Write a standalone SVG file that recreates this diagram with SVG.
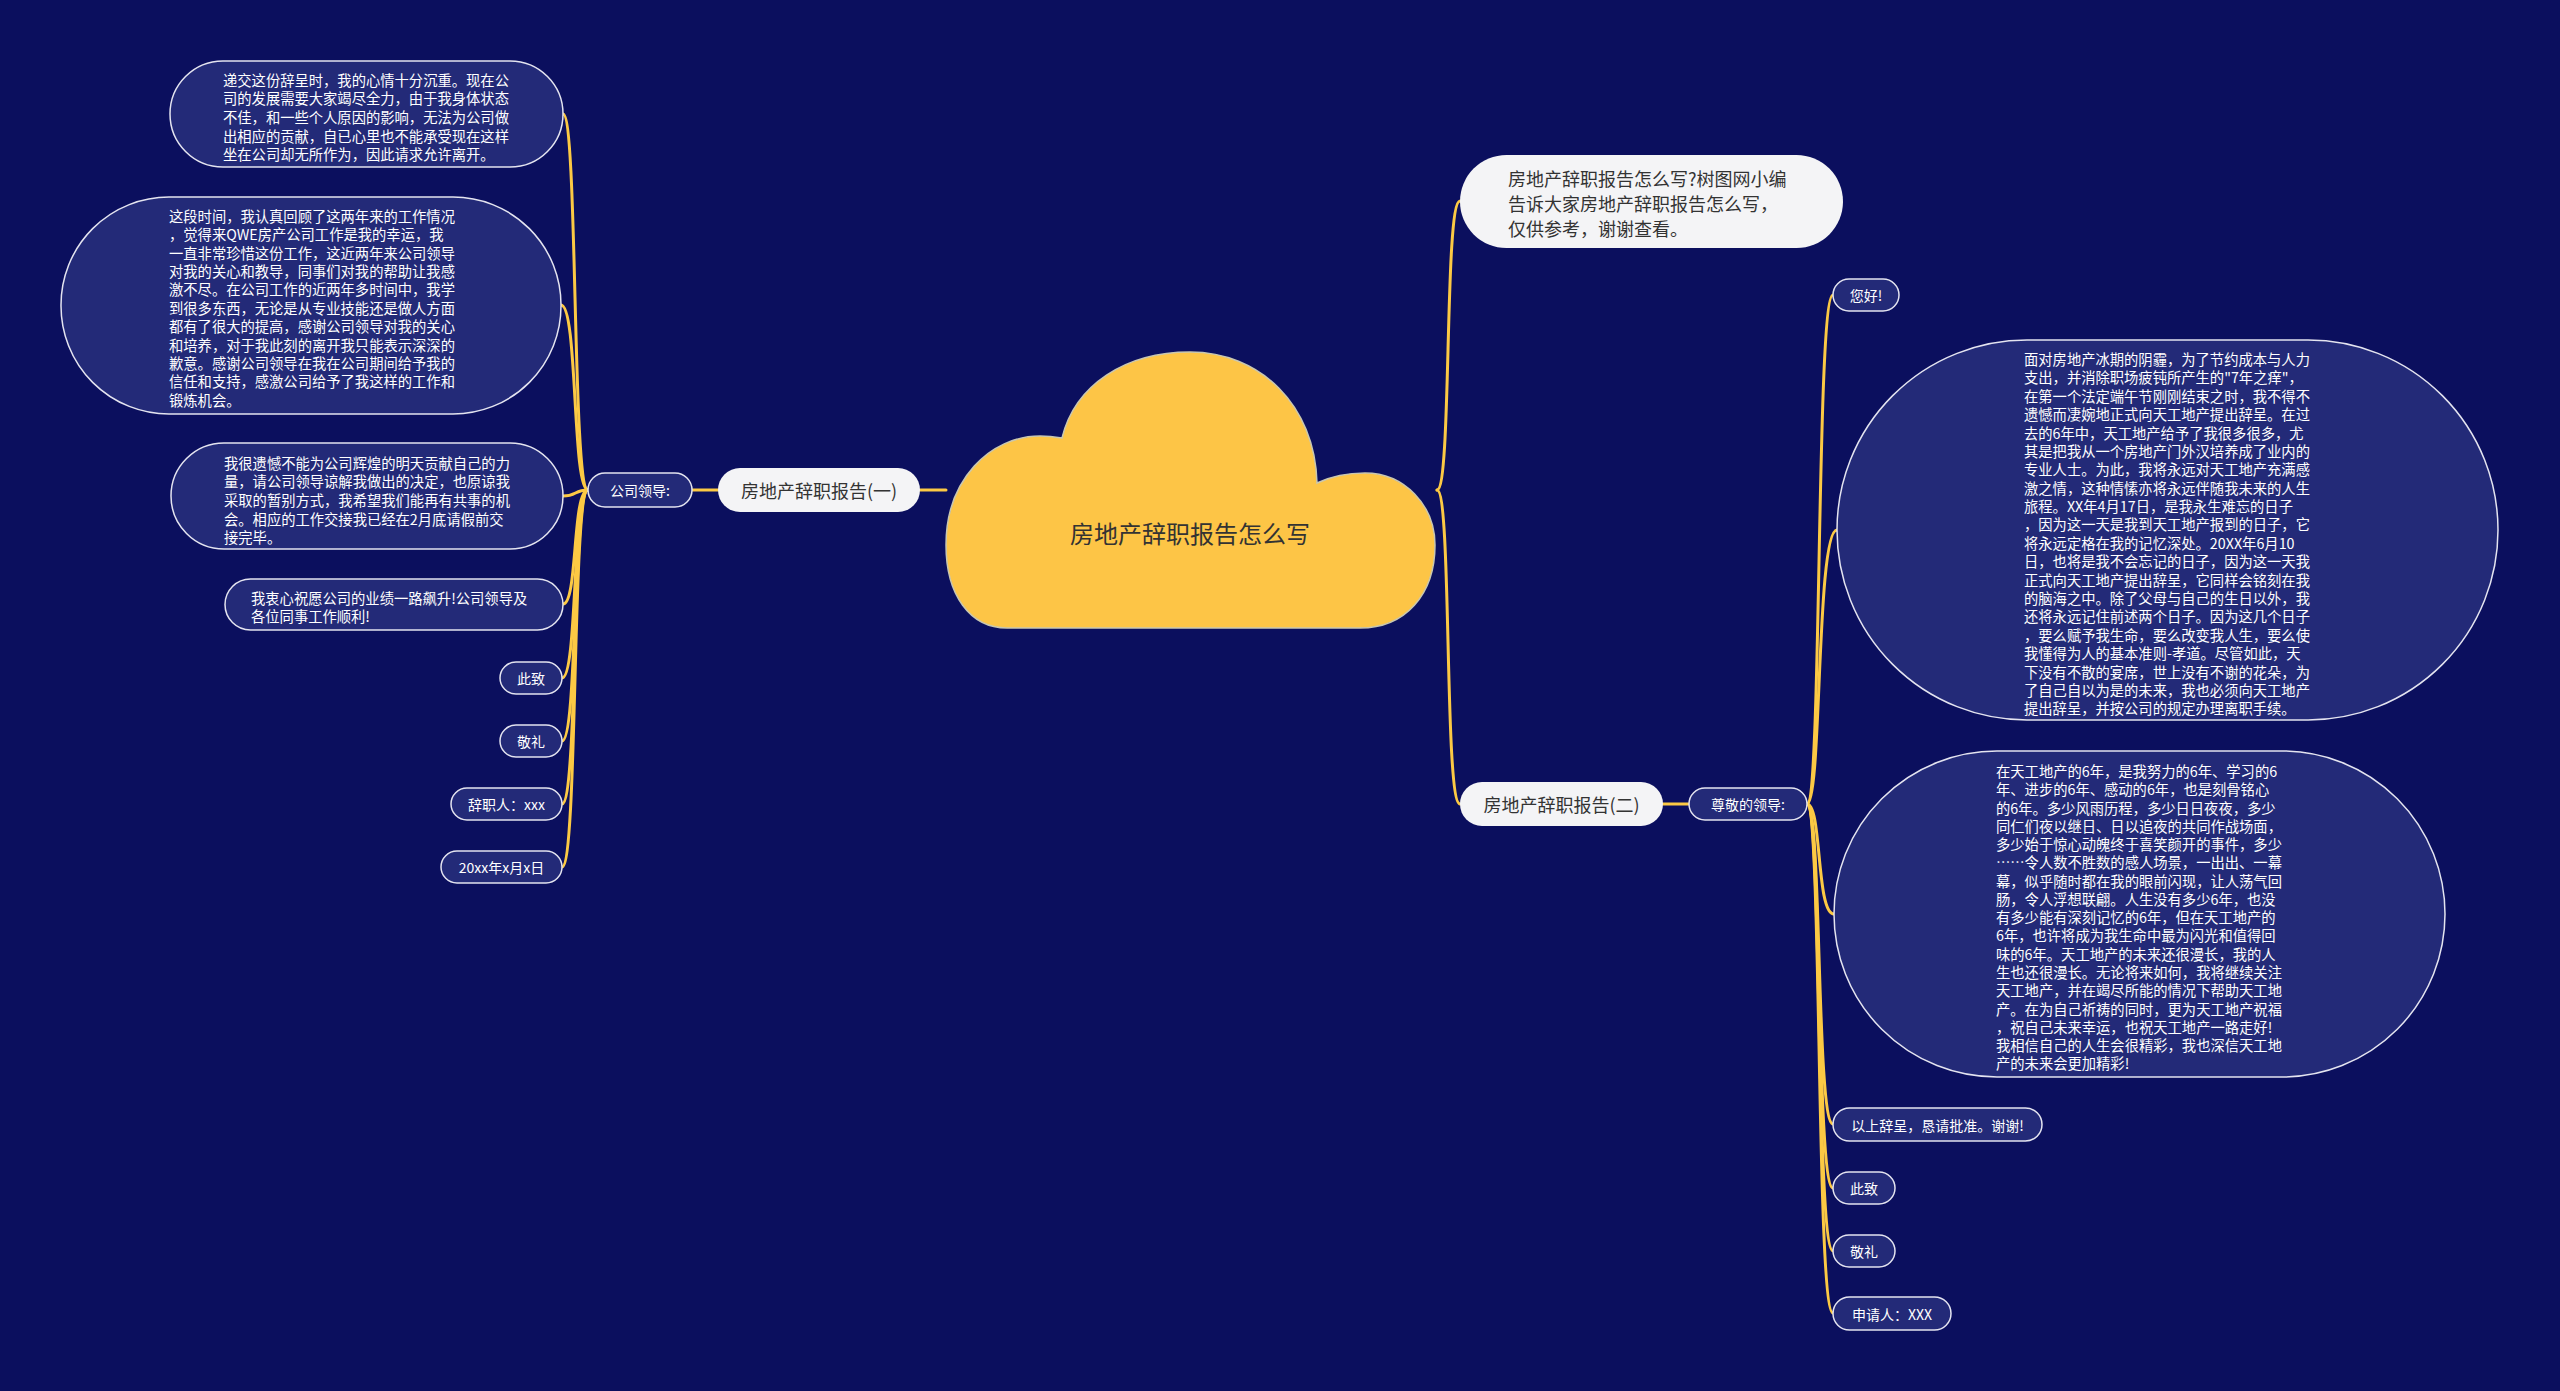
<svg xmlns="http://www.w3.org/2000/svg" width="2560" height="1391" viewBox="0 0 2560 1391">
<style>
.bg{fill:#0b0f5e}
.dk{fill:#232a78;stroke:#e4e4f0;stroke-width:1.5}
.lt{fill:#f4f4f6;stroke:none}
.cn{fill:none;stroke:#fcc944;stroke-width:3;stroke-linecap:round}
text{font-family:"Noto Sans CJK SC","Noto Sans",sans-serif;dominant-baseline:central}
.tw{fill:#ffffff;font-size:14.3px}
.ts{fill:#ffffff;font-size:14px;text-anchor:middle}
.td{fill:#333333;font-size:18px}
.tc{fill:#333333;font-size:24px;text-anchor:middle}
</style>
<rect class="bg" x="0" y="0" width="2560" height="1391"/>

<g id="connectors">
<path class="cn" d="M946 490 L920 490"/>
<path class="cn" d="M718 490 L692 490"/>
<path class="cn" d="M588 490 C572 490 578 114 563 114"/>
<path class="cn" d="M588 490 C572 490 578 305 561 305"/>
<path class="cn" d="M588 490 C574 490 577 496 563 496"/>
<path class="cn" d="M588 490 C572 490 578 604 563 604"/>
<path class="cn" d="M588 490 C572 490 578 678 562 678"/>
<path class="cn" d="M588 490 C572 490 578 741 562 741"/>
<path class="cn" d="M588 490 C572 490 578 804 562 804"/>
<path class="cn" d="M588 490 C572 490 578 867 562 867"/>
<path class="cn" d="M1437 490 C1452 490 1444 201 1460 201"/>
<path class="cn" d="M1437 490 C1452 490 1444 804 1460 804"/>
<path class="cn" d="M1663 804 L1689 804"/>
<path class="cn" d="M1807 804 C1822 804 1816 295 1833 295"/>
<path class="cn" d="M1807 804 C1822 804 1816 530 1837 530"/>
<path class="cn" d="M1807 804 C1822 804 1816 914 1834 914"/>
<path class="cn" d="M1807 804 C1822 804 1816 1124 1833 1124"/>
<path class="cn" d="M1807 804 C1822 804 1816 1188 1833 1188"/>
<path class="cn" d="M1807 804 C1822 804 1816 1251 1833 1251"/>
<path class="cn" d="M1807 804 C1822 804 1816 1313 1833 1313"/>
</g>

<g id="root">
<path d="M1007 628 C970 628 946 595 946 545 C946 480 990 436 1040 436 C1048 436 1056 437 1062 438 C1075 385 1125 352 1190 352 C1260 352 1315 405 1317 483 C1332 476 1348 473 1365 473 C1404 473 1435 505 1435 545 C1435 595 1405 628 1360 628 Z" fill="#fdc546" stroke="#c9c7b0" stroke-width="1.5"/>
<text class="tc" x="1190" y="532">房地产辞职报告怎么写</text>
</g>

<g id="n-report1">
<rect class="lt" x="718" y="468" width="202" height="44" rx="22"/>
<text class="td" x="819" y="490" text-anchor="middle">房地产辞职报告(一)</text>
</g>

<g id="n-leader1">
<rect class="dk" x="588" y="473" width="104" height="34" rx="17"/>
<text class="ts" x="640" y="490">公司领导:</text>
</g>

<g id="n-l1">
<rect class="dk" x="170" y="61" width="393" height="106" rx="53"/>
<text class="tw"><tspan x="223" y="78.7">递交这份辞呈时，我的心情十分沉重。现在公</tspan><tspan x="223" y="97.3">司的发展需要大家竭尽全力，由于我身体状态</tspan><tspan x="223" y="115.9">不佳，和一些个人原因的影响，无法为公司做</tspan><tspan x="223" y="134.5">出相应的贡献，自已心里也不能承受现在这样</tspan><tspan x="223" y="153.1">坐在公司却无所作为，因此请求允许离开。</tspan></text>
</g>

<g id="n-l2">
<rect class="dk" x="61" y="197" width="500" height="217" rx="108"/>
<text class="tw"><tspan x="169" y="214.7">这段时间，我认真回顾了这两年来的工作情况</tspan><tspan x="169" y="233.1">，觉得来QWE房产公司工作是我的幸运，我</tspan><tspan x="169" y="251.5">一直非常珍惜这份工作，这近两年来公司领导</tspan><tspan x="169" y="269.9">对我的关心和教导，同事们对我的帮助让我感</tspan><tspan x="169" y="288.3">激不尽。在公司工作的近两年多时间中，我学</tspan><tspan x="169" y="306.7">到很多东西，无论是从专业技能还是做人方面</tspan><tspan x="169" y="325.1">都有了很大的提高，感谢公司领导对我的关心</tspan><tspan x="169" y="343.5">和培养，对于我此刻的离开我只能表示深深的</tspan><tspan x="169" y="361.9">歉意。感谢公司领导在我在公司期间给予我的</tspan><tspan x="169" y="380.3">信任和支持，感激公司给予了我这样的工作和</tspan><tspan x="169" y="398.7">锻炼机会。</tspan></text>
</g>

<g id="n-l3">
<rect class="dk" x="171" y="443" width="392" height="106" rx="53"/>
<text class="tw"><tspan x="224" y="461.7">我很遗憾不能为公司辉煌的明天贡献自己的力</tspan><tspan x="224" y="480.3">量，请公司领导谅解我做出的决定，也原谅我</tspan><tspan x="224" y="498.9">采取的暂别方式，我希望我们能再有共事的机</tspan><tspan x="224" y="517.5">会。相应的工作交接我已经在2月底请假前交</tspan><tspan x="224" y="536.1">接完毕。</tspan></text>
</g>

<g id="n-l4">
<rect class="dk" x="225" y="579" width="338" height="51" rx="25.5"/>
<text class="tw"><tspan x="251" y="596.7">我衷心祝愿公司的业绩一路飙升!公司领导及</tspan><tspan x="251" y="615.3">各位同事工作顺利!</tspan></text>
</g>

<g id="n-l5">
<rect class="dk" x="500" y="662" width="62" height="32" rx="16"/>
<text class="ts" x="531" y="678">此致</text>
</g>

<g id="n-l6">
<rect class="dk" x="500" y="725" width="62" height="32" rx="16"/>
<text class="ts" x="531" y="741">敬礼</text>
</g>

<g id="n-l7">
<rect class="dk" x="451" y="788" width="111" height="32" rx="16"/>
<text class="ts" x="506.5" y="804">辞职人：xxx</text>
</g>

<g id="n-l8">
<rect class="dk" x="441" y="851" width="121" height="32" rx="16"/>
<text class="ts" x="501.5" y="867">20xx年x月x日</text>
</g>

<g id="n-intro">
<rect class="lt" x="1460" y="155" width="383" height="93" rx="46.5"/>
<text class="td"><tspan x="1508" y="178.3">房地产辞职报告怎么写?树图网小编</tspan><tspan x="1508" y="203.3">告诉大家房地产辞职报告怎么写，</tspan><tspan x="1508" y="228.3">仅供参考，谢谢查看。</tspan></text>
</g>

<g id="n-report2">
<rect class="lt" x="1460" y="782" width="203" height="44" rx="22"/>
<text class="td" x="1561.5" y="804" text-anchor="middle">房地产辞职报告(二)</text>
</g>

<g id="n-leader2">
<rect class="dk" x="1689" y="788" width="118" height="32" rx="16"/>
<text class="ts" x="1748" y="804">尊敬的领导:</text>
</g>

<g id="n-r1">
<rect class="dk" x="1833" y="279" width="66" height="32" rx="16"/>
<text class="ts" x="1866" y="295">您好!</text>
</g>

<g id="n-r2">
<rect class="dk" x="1837" y="340" width="661" height="380" rx="190"/>
<text class="tw"><tspan x="2024" y="358">面对房地产冰期的阴霾，为了节约成本与人力</tspan><tspan x="2024" y="376.4">支出，并消除职场疲钝所产生的"7年之痒"，</tspan><tspan x="2024" y="394.8">在第一个法定端午节刚刚结束之时，我不得不</tspan><tspan x="2024" y="413.2">遗憾而凄婉地正式向天工地产提出辞呈。在过</tspan><tspan x="2024" y="431.5">去的6年中，天工地产给予了我很多很多，尤</tspan><tspan x="2024" y="449.9">其是把我从一个房地产门外汉培养成了业内的</tspan><tspan x="2024" y="468.3">专业人士。为此，我将永远对天工地产充满感</tspan><tspan x="2024" y="486.7">激之情，这种情愫亦将永远伴随我未来的人生</tspan><tspan x="2024" y="505">旅程。XX年4月17日，是我永生难忘的日子</tspan><tspan x="2024" y="523.4">，因为这一天是我到天工地产报到的日子，它</tspan><tspan x="2024" y="541.8">将永远定格在我的记忆深处。20XX年6月10</tspan><tspan x="2024" y="560.2">日，也将是我不会忘记的日子，因为这一天我</tspan><tspan x="2024" y="578.6">正式向天工地产提出辞呈，它同样会铭刻在我</tspan><tspan x="2024" y="597">的脑海之中。除了父母与自己的生日以外，我</tspan><tspan x="2024" y="615.4">还将永远记住前述两个日子。因为这几个日子</tspan><tspan x="2024" y="633.8">，要么赋予我生命，要么改变我人生，要么使</tspan><tspan x="2024" y="652.2">我懂得为人的基本准则-孝道。尽管如此，天</tspan><tspan x="2024" y="670.6">下没有不散的宴席，世上没有不谢的花朵，为</tspan><tspan x="2024" y="689">了自己自以为是的未来，我也必须向天工地产</tspan><tspan x="2024" y="707.3">提出辞呈，并按公司的规定办理离职手续。</tspan></text>
</g>

<g id="n-r3">
<rect class="dk" x="1834" y="751" width="611" height="326" rx="163"/>
<text class="tw"><tspan x="1996" y="770">在天工地产的6年，是我努力的6年、学习的6</tspan><tspan x="1996" y="788.3">年、进步的6年、感动的6年，也是刻骨铭心</tspan><tspan x="1996" y="806.5">的6年。多少风雨历程，多少日日夜夜，多少</tspan><tspan x="1996" y="824.8">同仁们夜以继日、日以追夜的共同作战场面，</tspan><tspan x="1996" y="843.1">多少始于惊心动魄终于喜笑颜开的事件，多少</tspan><tspan x="1996" y="861.4">……令人数不胜数的感人场景，一出出、一幕</tspan><tspan x="1996" y="879.6">幕，似乎随时都在我的眼前闪现，让人荡气回</tspan><tspan x="1996" y="897.9">肠，令人浮想联翩。人生没有多少6年，也没</tspan><tspan x="1996" y="916.2">有多少能有深刻记忆的6年，但在天工地产的</tspan><tspan x="1996" y="934.4">6年，也许将成为我生命中最为闪光和值得回</tspan><tspan x="1996" y="952.7">味的6年。天工地产的未来还很漫长，我的人</tspan><tspan x="1996" y="971">生也还很漫长。无论将来如何，我将继续关注</tspan><tspan x="1996" y="989.2">天工地产，并在竭尽所能的情况下帮助天工地</tspan><tspan x="1996" y="1007.5">产。在为自己祈祷的同时，更为天工地产祝福</tspan><tspan x="1996" y="1025.8">，祝自己未来幸运，也祝天工地产一路走好!</tspan><tspan x="1996" y="1044">我相信自己的人生会很精彩，我也深信天工地</tspan><tspan x="1996" y="1062.3">产的未来会更加精彩!</tspan></text>
</g>

<g id="n-r4">
<rect class="dk" x="1833" y="1108" width="209" height="33" rx="16.5"/>
<text class="ts" x="1937.5" y="1124.5">以上辞呈，恳请批准。谢谢!</text>
</g>

<g id="n-r5">
<rect class="dk" x="1833" y="1172" width="62" height="32" rx="16"/>
<text class="ts" x="1864" y="1188">此致</text>
</g>

<g id="n-r6">
<rect class="dk" x="1833" y="1235" width="62" height="32" rx="16"/>
<text class="ts" x="1864" y="1251">敬礼</text>
</g>

<g id="n-r7">
<rect class="dk" x="1833" y="1297" width="118" height="33" rx="16.5"/>
<text class="ts" x="1892" y="1313.5">申请人：XXX</text>
</g>
</svg>
